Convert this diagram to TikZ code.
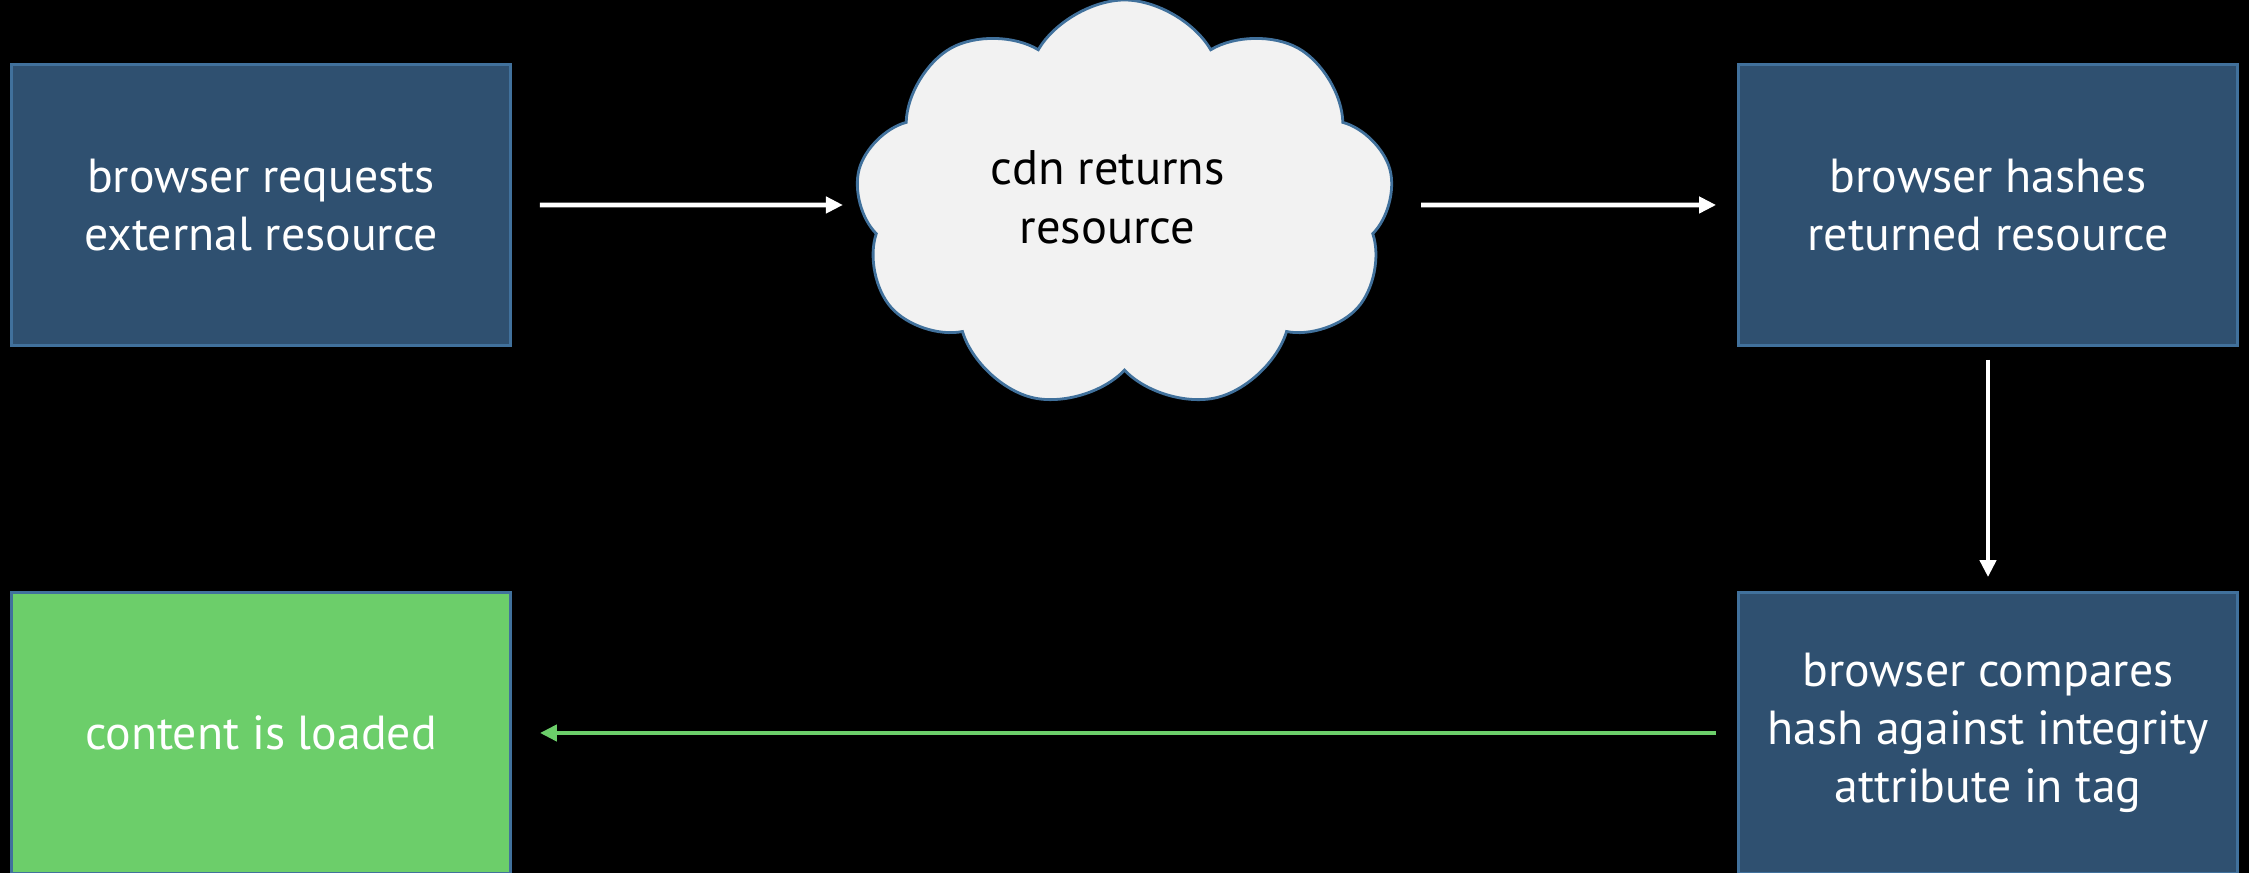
\documentclass[tikz,border=0pt]{standalone}
\usepackage{fontspec}
\setmainfont{PT Sans}
\usetikzlibrary{positioning, shapes, arrows.meta}
\definecolor{boxblue}{RGB}{47,80,112}
\definecolor{edgeblue}{RGB}{65,113,156}
\definecolor{okgreen}{RGB}{108,206,106}
\definecolor{cloudgray}{RGB}{242,242,242}

\begin{document}
\begin{tikzpicture}[node distance=5.28cm and 8.635cm,on grid,
    stepbox/.style={rectangle,draw=edgeblue,line width=0.8pt,fill=boxblue,text=white,
      minimum width=4.99cm,minimum height=2.81cm,align=center,
      font=\fontsize{13.6}{16.6}\selectfont},
    flow/.style={-{Triangle[length=0.17cm,width=0.16cm]},line width=1.3pt,white}]

      \fill[black] (0,0) rectangle (22.49,8.73);
      \useasboundingbox (0,0) rectangle (22.49,8.73);

      \node[stepbox]  (req) at (2.61,6.68) {browser requests\\external resource};
      \node[cloud,cloud puffs=9,cloud puff arc=120,cloud ignores aspect,
            draw=edgeblue,line width=0.8pt,fill=cloudgray,
            minimum width=5.39cm,minimum height=4.1cm,
            label={[align=center,text=black,xshift=-0.17cm,yshift=0.08cm,
                    font=\fontsize{13.8}{16.8}\selectfont]center:cdn returns\\resource}]
                      (cdn)  [right=of req] {};
      \node[stepbox]  (hash) [right=of cdn] {browser hashes\\returned resource};
      \node[stepbox]  (cmp)  [below=of hash] {browser compares\\hash against integrity\\attribute in tag};
      \node[stepbox,fill=okgreen] (done) [below=of req] {content is loaded};

      \path[flow] (req) edge [shorten <=0.28cm,shorten >=0.15cm] (cdn)
                  (cdn) edge [shorten <=0.3cm,shorten >=0.21cm] (hash)
                  (hash) edge [shorten <=0.13cm,shorten >=0.14cm] (cmp);
      \path[flow,okgreen] (cmp) edge [shorten <=0.21cm,shorten >=0.28cm] (done);
    \end{tikzpicture}
\end{document}
